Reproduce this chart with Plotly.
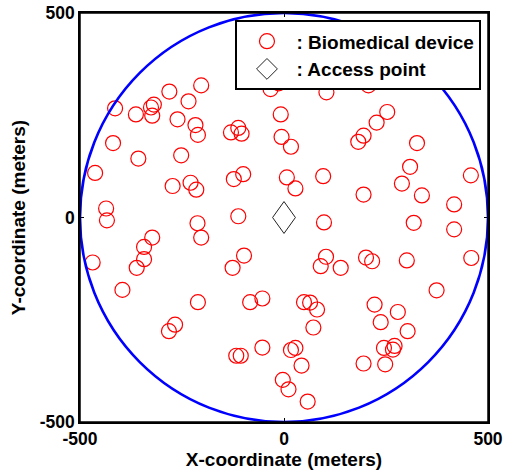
import plotly.graph_objects as go

# ---------------- data ----------------
device_x = [-281, -203, -414, -363, -326, -319, -323, -234, -261, -217, -211, -130, -112, -104,
            -33, -13, -8, -6, -419, -357, -252, -463, -273, -229, -215, -123, -100, 7, -436, -434,
            -212, -112,
            104, 207, 253, 227, 195, 182, 326, 17, 309, 458, 28, 96, 289, 338, 195, 417, 98, 318,
            -203, -323, -343, -343, -361, -469, -98, -126, -396, -211, -83, -53, -267, -282, -53,
            -117, -106, 17, -3, 11,
            417, 103, 90, 139, 201, 216, 301, 459, 374, 49, 64, 81, 222, 279, 72, 237, 303, 28, 43,
            195, 245, 271, 267, 248, 58]
device_y = [308, 323, 267, 252, 269, 276, 249, 284, 240, 226, 202, 208, 219, 205,
            314, 328, 252, 197, 182, 144, 152, 109, 77, 85, 68, 94, 106, 98, 22, -7,
            -14, 3,
            306, 323, 258, 232, 200, 185, 182, 173, 124, 103, 71, 101, 83, 54, 56, 32, -12, -13,
            -49, -49, -72, -102, -123, -110, -93, -123, -177, -207, -207, -198, -262, -278, -318,
            -338, -338, -324, -397, -420,
            -29, -96, -119, -123, -98, -107, -105, -99, -178, -207, -208, -225, -213, -231, -269,
            -256, -278, -319, -362, -357, -319, -314, -323, -359, -450]
ap_x = [0]
ap_y = [0]
area_radius = 500
axis_range = [-500, 500]
tick_vals = [-500, 0, 500]
tick_text = ["-500", "0", "500"]
device_name = ": Biomedical device"
ap_name = ": Access point"
x_title = "X-coordinate (meters)"
y_title = "Y-coordinate (meters)"

# ---------------- style ----------------
AP_HALF_W = 28   # meters
AP_HALF_H = 39   # meters
FAMILY = "Arial, 'Liberation Sans', sans-serif"
FONT = dict(family=FAMILY, size=19, color="black", weight="bold")
TICKFONT = dict(family=FAMILY, size=17.5, color="black", weight="bold")

fig = go.Figure()

# coverage circle
fig.add_shape(type="circle", xref="x", yref="y",
              x0=-area_radius, x1=area_radius, y0=-area_radius, y1=area_radius,
              line=dict(color="#0000FF", width=2.6), layer="above")
# plot frame
fig.add_shape(type="rect", xref="paper", yref="paper", x0=0, x1=1, y0=0, y1=1,
              line=dict(color="black", width=1.5), layer="above")

# devices
fig.add_trace(go.Scatter(
    x=device_x, y=device_y, mode="markers", name=device_name,
    marker=dict(symbol="circle-open", size=15, color="#FF0000", line=dict(width=1.2, color="#FF0000")),
))

# access point drawn as a tall diamond outline around its location
dx, dy = [], []
for cx, cy in zip(ap_x, ap_y):
    dx += [cx, cx + AP_HALF_W, cx, cx - AP_HALF_W, cx, None]
    dy += [cy + AP_HALF_H, cy, cy - AP_HALF_H, cy, cy + AP_HALF_H, None]
fig.add_trace(go.Scatter(x=dx, y=dy, mode="lines", showlegend=False,
                         line=dict(color="#222222", width=1), hoverinfo="skip"))
# legend entry for the access point
fig.add_trace(go.Scatter(
    x=[None], y=[None], mode="markers", name=ap_name,
    marker=dict(symbol="diamond-open", size=16, color="#222222", line=dict(width=1, color="#222222")),
))

axis_common = dict(
    range=axis_range, tickvals=tick_vals, ticktext=tick_text,
    ticks="inside", ticklen=4, tickwidth=1, tickcolor="black",
    showline=True, linecolor="black", linewidth=1.5, mirror="allticks",
    showgrid=False, zeroline=False, automargin=False,
    tickfont=TICKFONT,
)

fig.update_layout(
    width=507, height=474,
    margin=dict(l=80, r=18.5, t=12.7, b=52.3, autoexpand=False),
    paper_bgcolor="white", plot_bgcolor="white",
    font=FONT,
    hovermode=False,
    showlegend=True,
    legend=dict(x=0.984, xanchor="right", y=0.982, yanchor="top",
                bgcolor="white", bordercolor="black", borderwidth=2,
                font=FONT, itemwidth=49, tracegroupgap=0),
    xaxis=dict(title=dict(text=x_title, font=FONT, standoff=5), **axis_common),
    yaxis=dict(title=dict(text=y_title, font=FONT, standoff=9), **axis_common),
)

# remove the default page margin so the figure fills the window exactly
fig.write_html("out.html",
               config={"displayModeBar": False},
               post_script="document.body.style.margin='0';document.body.style.overflow='hidden';")
